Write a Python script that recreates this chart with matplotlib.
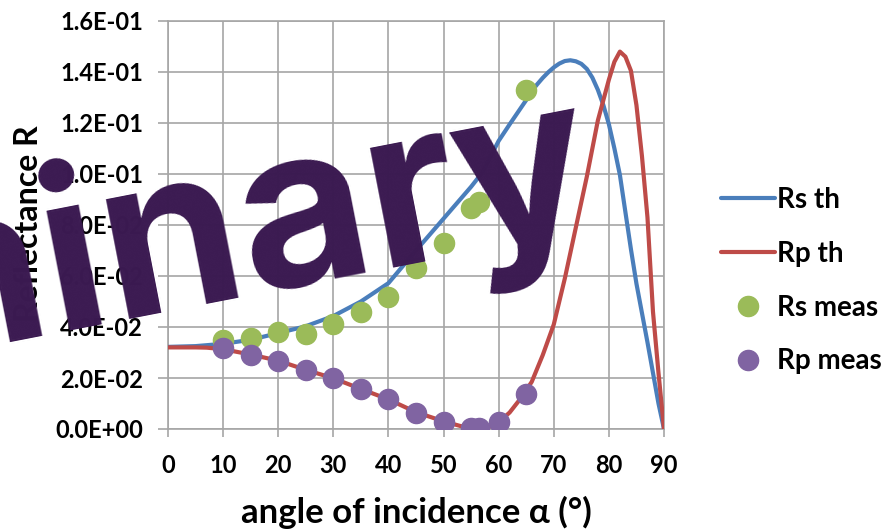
import matplotlib
matplotlib.use("Agg")
import matplotlib.pyplot as plt
from matplotlib.ticker import FuncFormatter, MultipleLocator

# Theoretical reflectance curves
rs_th_angle = [0, 5, 10, 15, 20, 25, 30, 35, 40, 45, 50, 55, 57, 60, 62, 65, 66, 67, 68,
               69, 70, 71, 72, 73, 74, 75, 76, 77, 78, 79, 80, 81, 82, 83, 84, 85, 86,
               87, 88, 89, 90]
rs_th_R = [0.0322, 0.0325, 0.0334, 0.0350, 0.0376, 0.0403, 0.0443, 0.0500, 0.0572, 0.0700,
           0.0825, 0.0950, 0.1005, 0.1130, 0.1195, 0.1290, 0.1325, 0.1352, 0.1377,
           0.1399, 0.1418, 0.1433, 0.1443, 0.1446, 0.1442, 0.1432, 0.1412, 0.1378,
           0.1330, 0.1270, 0.1195, 0.1100, 0.0996, 0.0850, 0.0705, 0.0570, 0.0455,
           0.0340, 0.0220, 0.0100, 0.0]

rp_th_angle = [0, 5, 7, 10, 15, 20, 25, 30, 35, 40, 45, 50, 53, 55, 56, 57, 58, 60, 62, 64,
               66, 68, 70, 72, 74, 76, 78, 80, 81, 82, 83, 84, 85, 86, 87, 88, 89, 90]
rp_th_R = [0.0320, 0.0320, 0.0319, 0.0313, 0.0292, 0.0268, 0.0232, 0.0199, 0.0157, 0.0116,
           0.0066, 0.0030, 0.0012, 0.0004, 0.0002, 0.0003, 0.0006, 0.0026, 0.0065, 0.0120,
           0.0185, 0.0290, 0.0410, 0.0590, 0.0790, 0.0990, 0.1210, 0.1370, 0.1440, 0.1480,
           0.1460, 0.1405, 0.1270, 0.1070, 0.0830, 0.0460, 0.0220, 0.0]

# Measured reflectance
rs_meas_angle = [10, 15, 20, 25, 30, 35, 40, 45, 50, 55, 56.5, 65]
rs_meas_R = [0.0349, 0.0358, 0.0382, 0.0373, 0.0410, 0.0460, 0.0519, 0.0630, 0.0730,
             0.0866, 0.0889, 0.1329]

rp_meas_angle = [10, 15, 20, 25, 30, 35, 40, 45, 50, 55, 56.5, 60, 65]
rp_meas_R = [0.0316, 0.0290, 0.0268, 0.0231, 0.0199, 0.0156, 0.0116, 0.0064, 0.0029,
             0.0003, 0.0003, 0.0026, 0.0137]

x_ticks = [0, 10, 20, 30, 40, 50, 60, 70, 80, 90]

BLUE = "#4A7EBB"
RED = "#BE4B48"
GREEN = "#9BBB59"
PURPLE = "#8064A2"
GRID = "#A6A6A6"
INK = "#3B1A51"

plt.rcParams["font.family"] = ["Lato", "DejaVu Sans"]

fig = plt.figure(figsize=(8.91, 5.29), dpi=100)
ax = fig.add_axes([168 / 891, 1 - 429 / 529, 496 / 891, 408 / 529])

ax.plot(rs_th_angle, rs_th_R, color=BLUE, lw=3, label="Rs th", zorder=3,
        solid_joinstyle="round", solid_capstyle="round")
ax.plot(rp_th_angle, rp_th_R, color=RED, lw=3, label="Rp th", zorder=3,
        solid_joinstyle="round", solid_capstyle="round")
ax.plot(rs_meas_angle, rs_meas_R, ls="none", marker="o", ms=14.5, color=GREEN,
        mec=GREEN, label="Rs meas", zorder=4)
ax.plot(rp_meas_angle, rp_meas_R, ls="none", marker="o", ms=14.5, color=PURPLE,
        mec=PURPLE, label="Rp meas", zorder=4)

ax.set_xlim(0, 90)
ax.set_ylim(0, 0.16)
ax.set_xticks(x_ticks)
ax.yaxis.set_major_locator(MultipleLocator(0.02))
ax.yaxis.set_major_formatter(FuncFormatter(lambda v, p: f"{v:.1E}"))

ax.grid(True, color=GRID, lw=1.2)
ax.set_axisbelow(True)
for s in ax.spines.values():
    s.set_color(GRID)
    s.set_linewidth(1.2)
ax.tick_params(axis="both", colors=GRID, width=1.2, labelcolor="black",
               labelsize=17)
ax.tick_params(axis="y", length=7, pad=11)
ax.tick_params(axis="x", length=6, pad=12)
for lab in ax.get_xticklabels() + ax.get_yticklabels():
    lab.set_fontweight("bold")

fig.text(416 / 891, 1 - 523 / 529, "angle of incidence α (°)", ha="center",
         va="baseline", fontsize=25, fontweight="bold")
fig.text(29 / 891, 1 - 125 / 529, "Reflectance R", rotation=90, ha="center",
         va="top", fontsize=23, fontweight="bold")

leg = fig.legend(loc="upper left", bbox_to_anchor=(696 / 891, 1 - 162 / 529),
                 frameon=False, numpoints=1, handlelength=1.95, handletextpad=0.05,
                 labelspacing=1.0, prop={"family": "Lato", "weight": "bold", "size": 20})

fig.text(601 / 891, 1 - 224 / 529, "Preliminary", ha="right", va="baseline",
         rotation=11, rotation_mode="anchor", fontsize=161, fontweight="bold",
         family=["Inter", "DejaVu Sans"], color=INK, zorder=10)

fig.savefig("out.png", dpi=100)
